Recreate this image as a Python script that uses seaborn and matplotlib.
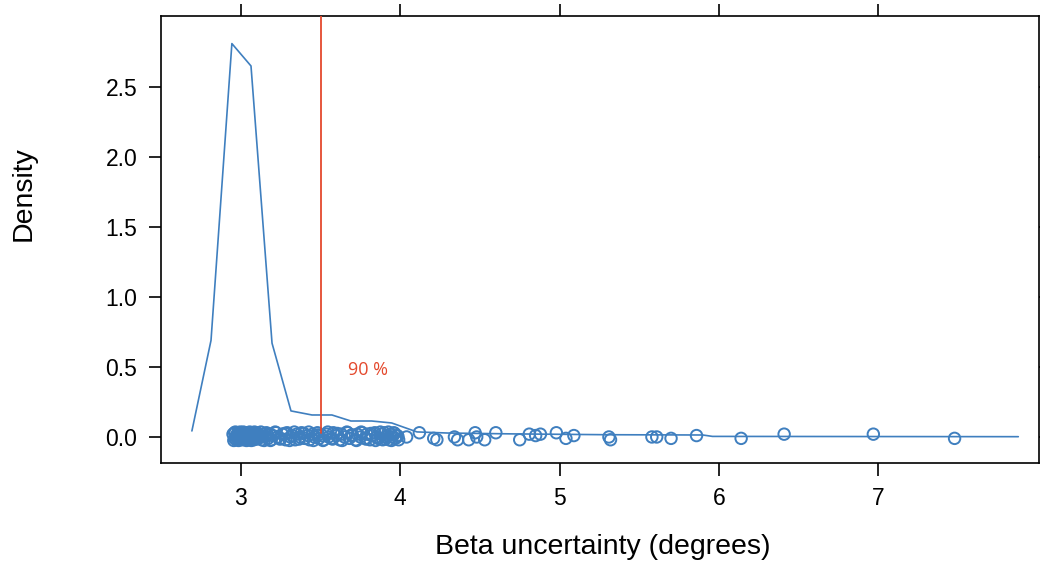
import numpy as np
import pandas as pd
import matplotlib
matplotlib.use("Agg")
import matplotlib.pyplot as plt
import seaborn as sns

# --- datos ---

# curva de densidad (x, densidad)
dens_x = [2.692, 2.812, 2.943, 3.063, 3.195, 3.314, 3.446, 3.571, 3.690, 3.820,
          3.946, 4.105, 4.300, 4.700, 5.300, 5.900, 5.960, 7.880]
dens_y = [0.043, 0.690, 2.810, 2.650, 0.670, 0.186, 0.157, 0.157, 0.114, 0.114,
          0.100, 0.036, 0.028, 0.022, 0.016, 0.014, 0.004, 0.002]

# observaciones (con jitter vertical) en la zona densa
dense_x = [2.95, 2.96, 2.96, 2.97, 2.97, 2.98, 2.98, 2.98, 2.99, 2.99,
           3.00, 3.00, 3.00, 3.01, 3.01, 3.01, 3.02, 3.02, 3.03, 3.03,
           3.03, 3.04, 3.04, 3.05, 3.05, 3.06, 3.06, 3.07, 3.07, 3.08,
           3.08, 3.09, 3.10, 3.10, 3.11, 3.12, 3.13, 3.14, 3.15, 3.16,
           3.17, 3.18, 3.19, 3.20, 3.22, 3.23, 3.25, 3.26, 3.28, 3.29,
           3.31, 3.32, 3.34, 3.35, 3.37, 3.38, 3.40, 3.42, 3.43, 3.45,
           3.46, 3.48, 3.49, 3.51, 3.52, 3.54, 3.55, 3.57, 3.58, 3.60,
           3.62, 3.63, 3.65, 3.67, 3.68, 3.70, 3.72, 3.73, 3.75, 3.76,
           3.78, 3.79, 3.81, 3.82, 3.84, 3.85, 3.86, 3.88, 3.89, 3.90,
           3.91, 3.92, 3.93, 3.94, 3.95, 3.96, 3.97, 3.98, 3.99]
dense_y = [0.02, -0.01, 0.03, 0.00, -0.02, 0.01, 0.03, -0.01, 0.02, -0.02,
           0.00, 0.03, -0.01, 0.02, -0.02, 0.01, 0.00, 0.03, -0.02, 0.02,
           0.00, -0.01, 0.03, 0.01, -0.02, 0.02, 0.00, -0.01, 0.03, 0.01,
           -0.02, 0.02, 0.00, 0.03, -0.01, 0.01, -0.02, 0.02, 0.00, 0.03,
           -0.01, 0.02, -0.02, 0.01, 0.03, 0.00, -0.01, 0.02, -0.02, 0.03,
           0.00, 0.01, -0.02, 0.02, 0.00, 0.03, -0.01, 0.01, -0.02, 0.02,
           0.00, 0.03, -0.01, 0.01, -0.02, 0.02, 0.00, -0.01, 0.03, 0.01,
           -0.02, 0.02, 0.00, 0.03, -0.01, 0.01, -0.02, 0.02, 0.00, 0.03,
           -0.01, 0.02, -0.02, 0.01, 0.03, 0.00, -0.01, 0.02, -0.02, 0.03,
           0.00, 0.01, -0.02, 0.02, 0.00, 0.03, -0.01, 0.01, -0.02]

# más observaciones superpuestas en la zona densa
dense2_x = [2.955, 2.965, 2.975, 2.985, 2.995, 3.005, 3.015, 3.025, 3.035, 3.045,
            3.055, 3.065, 3.075, 3.085, 3.095, 3.105, 3.125, 3.145, 3.165, 3.185,
            3.215, 3.245, 3.275, 3.305, 3.335, 3.365, 3.395, 3.425, 3.455, 3.485,
            3.515, 3.545, 3.575, 3.605, 3.635, 3.665, 3.695, 3.725, 3.755, 3.785,
            3.815, 3.845, 3.875, 3.905, 3.925, 3.945, 3.965, 3.985]
dense2_y = [-0.025, 0.035, 0.015, -0.025, 0.035, -0.015, 0.035, 0.005, -0.025, 0.025,
            0.035, -0.025, 0.015, 0.035, -0.015, 0.025, 0.035, -0.025, 0.015, -0.025,
            0.035, -0.015, 0.025, -0.025, 0.035, -0.015, 0.025, 0.035, -0.025, 0.015,
            -0.025, 0.035, -0.015, 0.025, -0.025, 0.035, 0.015, -0.025, 0.035, -0.015,
            0.025, -0.025, 0.035, -0.015, 0.035, -0.025, 0.025, 0.005]

# observaciones en la cola
tail_x = [4.04, 4.12, 4.21, 4.23, 4.34, 4.36, 4.43, 4.47, 4.48, 4.53,
          4.60, 4.75, 4.81, 4.85, 4.88, 4.98, 5.04, 5.09, 5.31, 5.32,
          5.58, 5.61, 5.70, 5.86, 6.14, 6.41, 6.97, 7.48]
tail_y = [0.00, 0.03, -0.01, -0.02, 0.00, -0.02, -0.02, 0.03, 0.00, -0.02,
          0.03, -0.02, 0.02, 0.01, 0.02, 0.03, -0.01, 0.01, 0.00, -0.02,
          0.00, 0.00, -0.01, 0.01, -0.01, 0.02, 0.02, -0.01]

# percentil 90
p90_x = 3.50
p90_label = "90 %"

x_ticks = [3, 4, 5, 6, 7]
y_ticks = [0.0, 0.5, 1.0, 1.5, 2.0, 2.5]

blue = "#3f7fbf"
red = "#e4492d"

dens = pd.DataFrame({"x": dens_x, "y": dens_y})
pts = pd.DataFrame({"x": dense_x + dense2_x + tail_x,
                    "y": dense_y + dense2_y + tail_y})

sns.set_style("ticks")
plt.rcParams["font.family"] = ["Liberation Sans", "DejaVu Sans"]

fig = plt.figure(figsize=(10.4, 5.63), dpi=100)
ax = fig.add_axes([161 / 1040, 100 / 563, 878 / 1040, 447 / 563])

sns.scatterplot(data=pts, x="x", y="y", ax=ax, s=68, facecolor="none",
                edgecolor=blue, linewidth=1.4, zorder=3)
sns.lineplot(data=dens, x="x", y="y", ax=ax, sort=False, estimator=None,
             color=blue, linewidth=1.2, zorder=4)
ax.plot([p90_x, p90_x], [0.03, 3.2], color=red, linewidth=1.3, zorder=5)
ax.text(p90_x + 0.17, 0.48, p90_label, color=red, fontsize=13,
        family=["Open Sans", "DejaVu Sans"], ha="left", va="center")

ax.set_xlim(2.498, 8.01)
ax.set_ylim(-0.186, 3.007)
ax.set_xticks(x_ticks)
ax.set_xticklabels([str(t) for t in x_ticks])
ax.set_yticks(y_ticks)
ax.set_yticklabels([f"{t:.1f}" for t in y_ticks])
ax.tick_params(direction="out", length=9, width=1.2, color="black",
               labelsize=16.5, pad=8, top=True, right=True,
               labeltop=False, labelright=False, labelcolor="black")
for sp in ax.spines.values():
    sp.set_visible(True)
    sp.set_linewidth(1.2)
    sp.set_color("black")

ax.set_xlabel("")
ax.set_ylabel("")
fig.text(603 / 1040, 1 - 547 / 563, "Beta uncertainty (degrees)",
         ha="center", va="center", fontsize=20.5, color="black")
fig.text(24 / 1040, 1 - 194 / 563, "Density", rotation=90,
         ha="center", va="center", fontsize=20.5, color="black")

fig.savefig("out.png", dpi=100)
